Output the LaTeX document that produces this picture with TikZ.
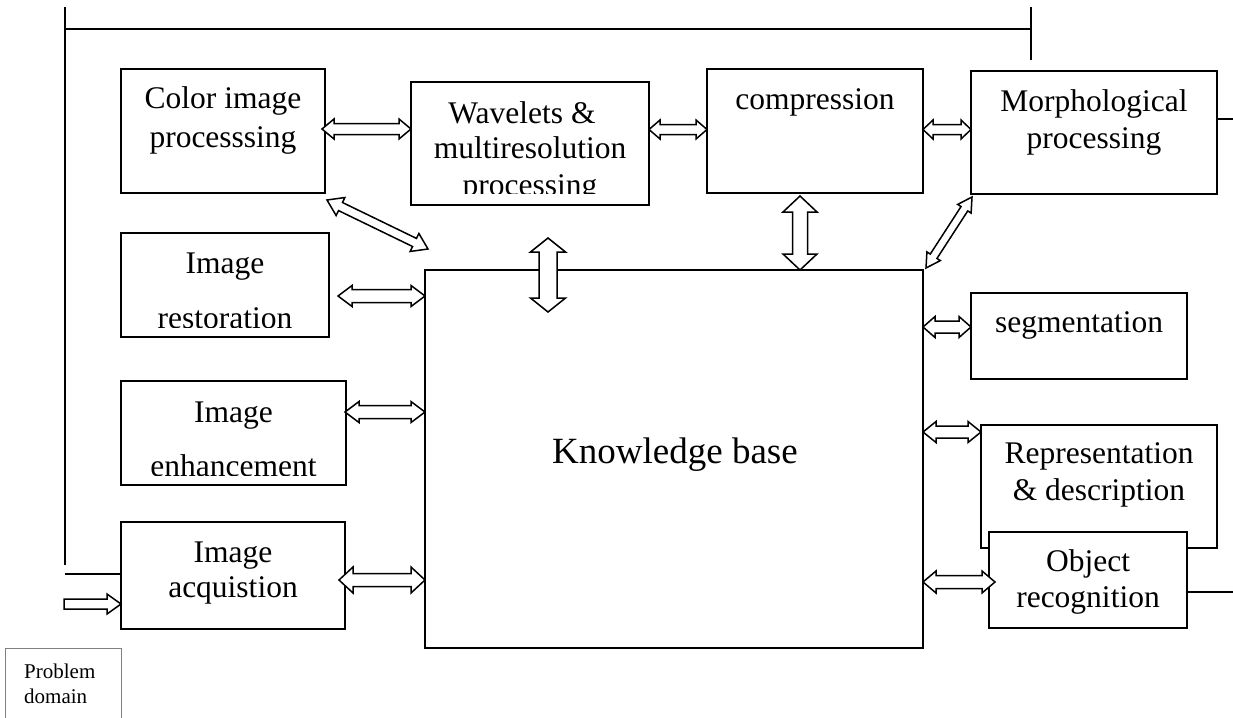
\documentclass[tikz,border=0pt]{standalone}
\usepackage{fontspec}
\setmainfont{Liberation Serif}
\usetikzlibrary{calc}
\tikzset{
  box/.style={draw, line width=1.5pt, fill=white, inner sep=0pt, outer sep=0pt},
  txt/.style={anchor=base, inner sep=0pt, font=\fontsize{31.5}{38}\selectfont},
  arr/.style={draw, fill=white, line width=1.5pt, line join=miter},
  wire/.style={line width=1.5pt},
}
\newcommand\dbarrow[5]{%
\draw[arr] (#1)
 -- ($(#1)!#3!(#2)!#4!90:(#2)$)
 -- ($(#1)!#3!(#2)!#5!90:(#2)$)
 -- ($(#2)!#3!(#1)!#5!-90:(#1)$)
 -- ($(#2)!#3!(#1)!#4!-90:(#1)$)
 -- (#2)
 -- ($(#2)!#3!(#1)!#4!90:(#1)$)
 -- ($(#2)!#3!(#1)!#5!90:(#1)$)
 -- ($(#1)!#3!(#2)!#5!-90:(#2)$)
 -- ($(#1)!#3!(#2)!#4!-90:(#2)$)
 -- cycle;}
\newcommand\sgarrow[5]{%
\draw[arr] ($(#1)!#5!90:(#2)$)
 -- ($(#2)!#3!(#1)!#5!-90:(#1)$)
 -- ($(#2)!#3!(#1)!#4!-90:(#1)$)
 -- (#2)
 -- ($(#2)!#3!(#1)!#4!90:(#1)$)
 -- ($(#2)!#3!(#1)!#5!90:(#1)$)
 -- ($(#1)!#5!-90:(#2)$)
 -- cycle;}
\begin{document}
\begin{tikzpicture}[x=1pt,y=-1pt]
\clip (0,0) rectangle (1233,717);
\fill[white] (0,0) rectangle (1233,717);

% frame lines
\coordinate (lt) at (65,7);
\coordinate (lb) at (65,565);
\coordinate (ht) at (65,29);
\coordinate (hr) at (1031,29);
\coordinate (rt) at (1031,7);
\coordinate (rb) at (1031,60);
\coordinate (j1) at (65,574);
\coordinate (m1) at (1233,119);
\coordinate (o1) at (1233,592);
\draw[wire] (lt) -- (lb);
\draw[wire] (ht) -- (hr);
\draw[wire] (rt) -- (rb);

% boxes
\node[box, minimum width=204pt, minimum height=124pt] (cip) at (223,131) {};
\node[box, minimum width=238pt, minimum height=123pt] (wav) at (530,143.5) {};
\node[box, minimum width=216pt, minimum height=124pt] (cmp) at (815,131) {};
\node[box, minimum width=246pt, minimum height=123pt] (mor) at (1094,132.5) {};
\node[box, minimum width=208pt, minimum height=104pt] (res) at (225,285) {};
\node[box, minimum width=225pt, minimum height=104pt] (enh) at (233.5,433) {};
\node[box, minimum width=224pt, minimum height=107pt] (acq) at (233,575.5) {};
\node[box, minimum width=498pt, minimum height=378pt] (kb) at (674,459) {};
\node[box, minimum width=216pt, minimum height=86pt] (seg) at (1079,336) {};
\node[box, minimum width=236pt, minimum height=123pt] (rep) at (1099,486.5) {};
\node[box, minimum width=198pt, minimum height=96pt] (obj) at (1088,580) {};
\node[box, draw=gray, line width=1pt, minimum width=116pt, minimum height=100pt] (pd) at (63,698) {};

\draw[wire] (j1) -- (j1 -| acq.west);
\draw[wire] (m1 -| mor.east) -- (m1);
\draw[wire] (o1 -| obj.east) -- (o1);

% texts
\node[txt] at (223,108) {Color image};
\node[txt] at (223,147) {processsing};
\begin{scope}
\clip (wav.north west) rectangle ([yshift=12pt]wav.south east);
\node[txt] at (522,123) {Wavelets \&};
\node[txt] at (530,158) {multiresolution};
\node[txt] at (530,195) {processing};
\end{scope}
\node[txt] at (815,109) {compression};
\node[txt] at (1094,111) {Morphological};
\node[txt] at (1094,148) {processing};
\begin{scope}
\clip (res.north west) rectangle ([yshift=10pt]res.south east);
\node[txt] at (225,273) {Image};
\node[txt] at (225,328) {restoration};
\end{scope}
\begin{scope}
\clip (enh.north west) rectangle ([yshift=10pt]enh.south east);
\node[txt] at (233.5,422) {Image};
\node[txt] at (233.5,476) {enhancement};
\end{scope}
\node[txt] at (233,562) {Image};
\node[txt] at (233,597) {acquistion};
\node[txt, font=\fontsize{37}{44}\selectfont] at (675,463) {Knowledge base};
\node[txt] at (1079,332) {segmentation};
\node[txt] at (1099,463) {Representation};
\node[txt] at (1099,500) {\& description};
\node[txt] at (1088,571) {Object};
\node[txt] at (1088,607) {recognition};
\node[txt, anchor=base west, font=\fontsize{21}{25}\selectfont] at (24,678) {Problem};
\node[txt, anchor=base west, font=\fontsize{21}{25}\selectfont] at (24,703) {domain};

% arrow end points
\coordinate (a1s) at (322,129);   \coordinate (a1e) at (411,129);
\coordinate (a2s) at (649,129.5); \coordinate (a2e) at (707,129.5);
\coordinate (a3s) at (923,129.5); \coordinate (a3e) at (971,129.5);
\coordinate (a4s) at (800,196);   \coordinate (a4e) at (800,270);
\coordinate (a5s) at (548,238);   \coordinate (a5e) at (548,312);
\coordinate (a6s) at (327,200);   \coordinate (a6e) at (428,249);
\coordinate (a7s) at (972,197);   \coordinate (a7e) at (926,268);
\coordinate (a8s) at (338,296);   \coordinate (a8e) at (425,296);
\coordinate (a9s) at (345,412);   \coordinate (a9e) at (425,412);
\coordinate (a10s) at (339,580);  \coordinate (a10e) at (425,580);
\coordinate (a11s) at (923,327);  \coordinate (a11e) at (971,327);
\coordinate (a12s) at (923,432);  \coordinate (a12e) at (981,432);
\coordinate (a13s) at (923,582);  \coordinate (a13e) at (995,582);
\coordinate (ins) at (64,604);    \coordinate (ine) at (121,604);

\dbarrow{a1s}{a1e}{12pt}{10pt}{5.5pt}
\dbarrow{a2s}{a2e}{11pt}{9.5pt}{5pt}
\dbarrow{a3s}{a3e}{10pt}{9.5pt}{5pt}
\dbarrow{a4s}{a4e}{16pt}{17pt}{7.5pt}
\dbarrow{a5s}{a5e}{14pt}{17.5pt}{9pt}
\dbarrow{a6s}{a6e}{15pt}{10pt}{4.5pt}
\dbarrow{a7s}{a7e}{14pt}{8pt}{4pt}
\dbarrow{a8s}{a8e}{14pt}{10.5pt}{6.5pt}
\dbarrow{a9s}{a9e}{14pt}{10.5pt}{6.5pt}
\dbarrow{a10s}{a10e}{14pt}{13pt}{6.5pt}
\dbarrow{a11s}{a11e}{12pt}{10.5pt}{6pt}
\dbarrow{a12s}{a12e}{13pt}{10.5pt}{6pt}
\dbarrow{a13s}{a13e}{13pt}{11pt}{6.5pt}
\sgarrow{ins}{ine}{14pt}{10pt}{5pt}
\end{tikzpicture}
\end{document}
